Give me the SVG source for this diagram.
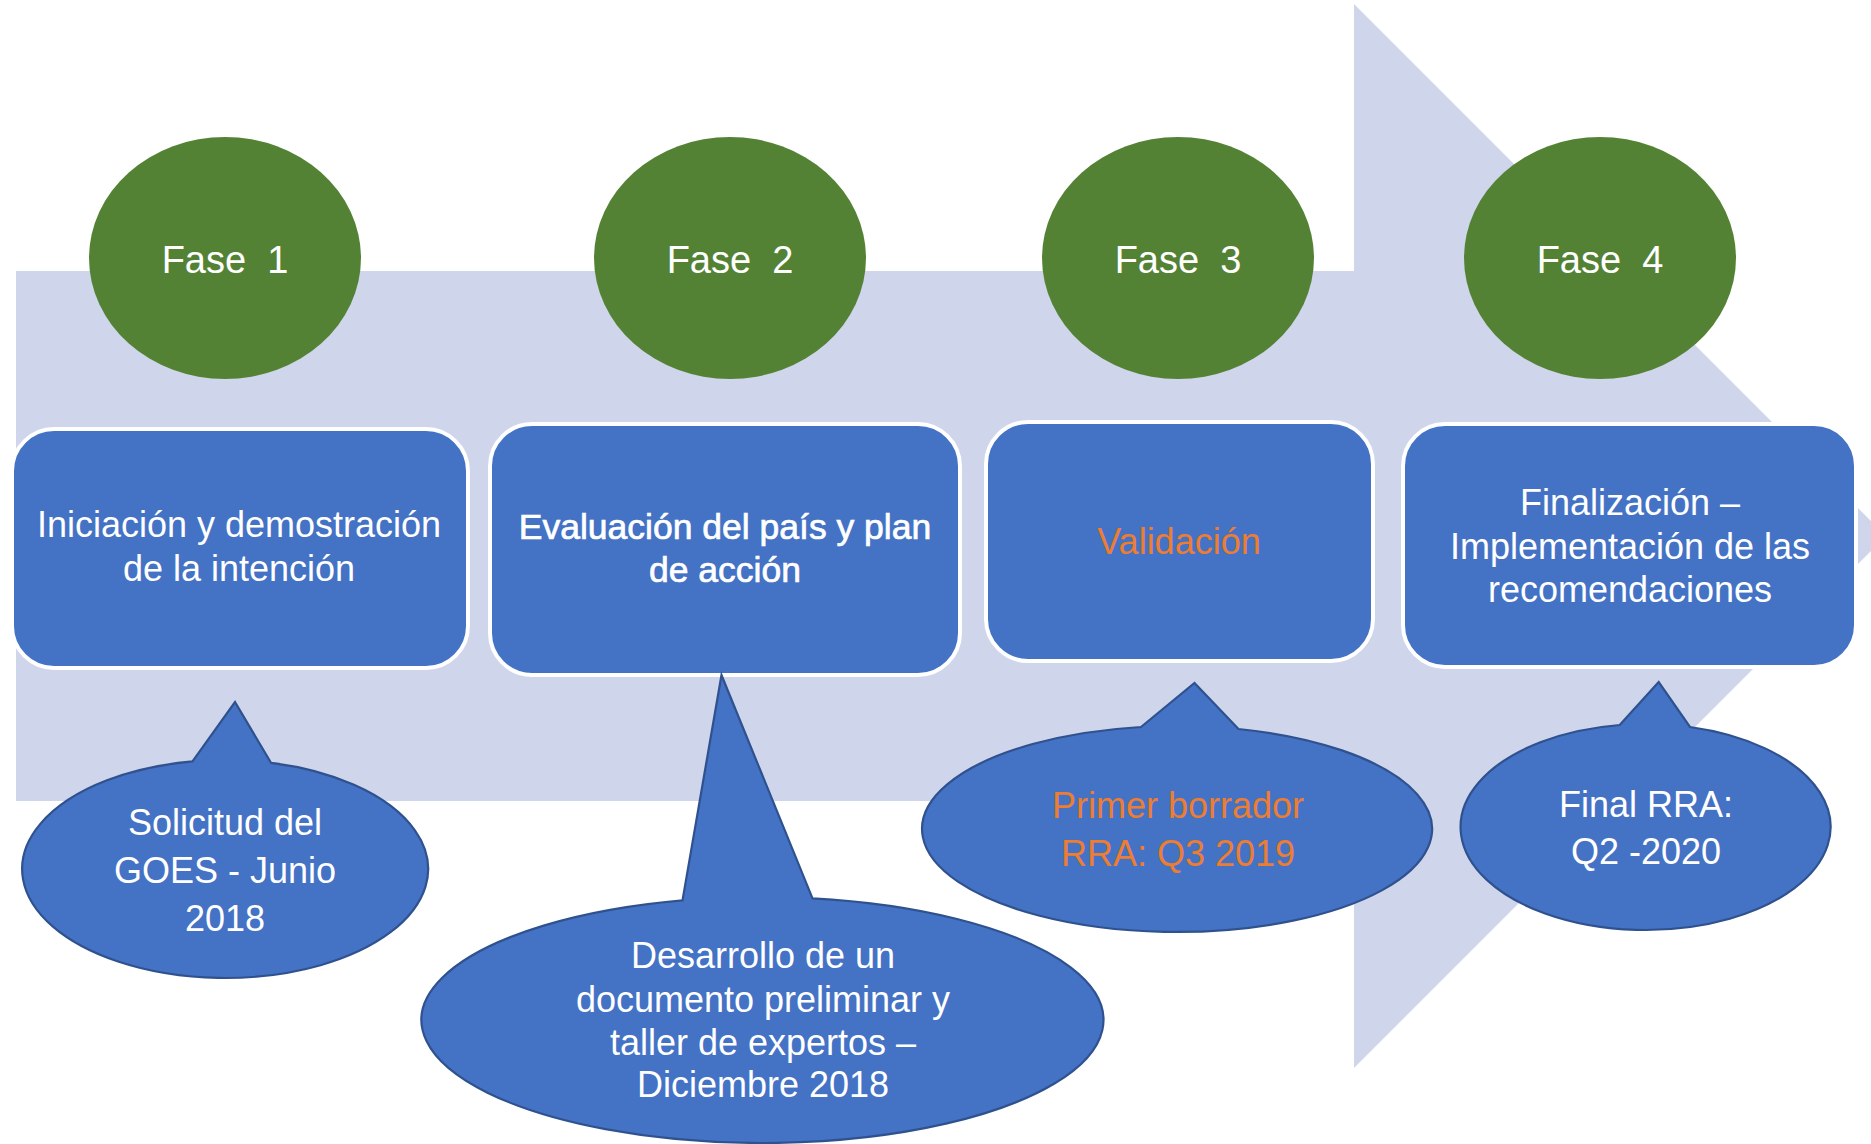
<svg xmlns="http://www.w3.org/2000/svg" width="1871" height="1144" viewBox="0 0 1871 1144">
<style>
.bg{fill:#ffffff}
.arrow{fill:#CFD5EA}
.phase{fill:#548235}
.box{fill:#4472C4;stroke:#ffffff;stroke-width:4}
.call{fill:#4472C4;stroke:#2F528F;stroke-width:2.2;stroke-linejoin:miter}
text{font-family:"Liberation Sans",Arial,sans-serif;text-anchor:middle;fill:#ffffff}
.ft{font-size:38px}
.bt{font-size:36px}
.semi{font-size:35.5px;stroke:#ffffff;stroke-width:0.7}
.or{fill:#ED7D31}
</style>
<rect class="bg" x="0" y="0" width="1871" height="1144"/>
<g id="big-arrow">
<polygon class="arrow" points="16,271 1354,271 1354,4 1886,536 1354,1068 1354,801 16,801"/>
</g>
<g id="connectors"></g>
<g id="fase1"><ellipse class="phase" cx="225" cy="258" rx="136" ry="121"/><text class="ft" x="225" y="273" xml:space="preserve">Fase  1</text></g>
<g id="fase2"><ellipse class="phase" cx="730" cy="258" rx="136" ry="121"/><text class="ft" x="730" y="273" xml:space="preserve">Fase  2</text></g>
<g id="fase3"><ellipse class="phase" cx="1178" cy="258" rx="136" ry="121"/><text class="ft" x="1178" y="273" xml:space="preserve">Fase  3</text></g>
<g id="fase4"><ellipse class="phase" cx="1600" cy="258" rx="136" ry="121"/><text class="ft" x="1600" y="273" xml:space="preserve">Fase  4</text></g>
<g id="box1"><rect class="box" x="12" y="429" width="456" height="239" rx="42"/><text class="bt" x="239" y="537">Iniciación y demostración</text><text class="bt" x="239" y="581">de la intención</text></g>
<g id="box2"><rect class="box" x="490" y="424" width="470" height="251" rx="42"/><text class="semi" x="725" y="539">Evaluación del país y plan</text><text class="semi" x="725" y="582">de acción</text></g>
<g id="box3"><rect class="box" x="986" y="422" width="387" height="239" rx="42"/><text class="bt or" x="1179" y="554">Validación</text></g>
<g id="box4"><rect class="box" x="1403" y="424" width="453" height="243" rx="42"/><text class="bt" x="1630" y="515">Finalización –</text><text class="bt" x="1630" y="559">Implementación de las</text><text class="bt" x="1630" y="602">recomendaciones</text></g>
<g id="callout1"><path class="call" d="M192.5,761.4 L235,702 L271,762.8 A203,109 0 1 1 192.5,761.4 Z"/><text class="bt" x="225" y="835">Solicitud del</text><text class="bt" x="225" y="883">GOES - Junio</text><text class="bt" x="225" y="931">2018</text></g>
<g id="callout2"><path class="call" d="M682.5,900.4 L721.5,675 L812.5,898.3 A341,123 0 1 1 682.5,900.4 Z"/><text class="bt" x="763" y="968">Desarrollo de un</text><text class="bt" x="763" y="1012">documento preliminar y</text><text class="bt" x="763" y="1055">taller de expertos –</text><text class="bt" x="763" y="1097">Diciembre 2018</text></g>
<g id="callout3"><path class="call" d="M1141,727 L1194.5,683 L1238.5,729 A255,103 0 1 1 1141,727 Z"/><text class="bt or" x="1178" y="818">Primer borrador</text><text class="bt or" x="1178" y="866">RRA: Q3 2019</text></g>
<g id="callout4"><path class="call" d="M1619.7,725 L1658.7,682 L1690,727 A185,103 0 1 1 1619.7,725 Z"/><text class="bt" x="1646" y="817">Final RRA:</text><text class="bt" x="1646" y="864">Q2 -2020</text></g>
</svg>
